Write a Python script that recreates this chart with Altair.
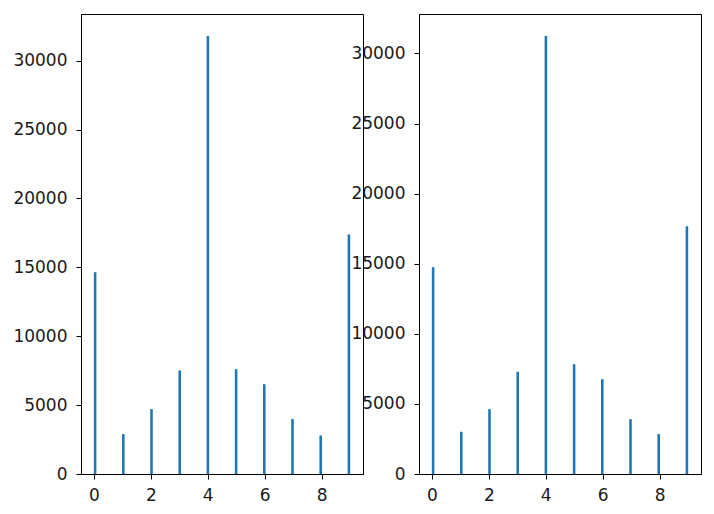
import math
import altair as alt
import pandas as pd

digits = [0, 1, 2, 3, 4, 5, 6, 7, 8, 9]
counts_left = [14650, 2900, 4710, 7520, 31800, 7610, 6520, 3990, 2800, 17390]
counts_right = [14750, 3010, 4630, 7290, 31250, 7830, 6760, 3915, 2845, 17670]

N_BINS = 100
LO, HI = 0, 9
STEP = (HI - LO) / N_BINS
BLUE = "#1f77b4"
FONT = "DejaVu Sans"


def make_df(counts):
    idx = [min(int(math.floor((d - LO) / STEP)), N_BINS - 1) for d in digits]
    return pd.DataFrame({
        "digit": digits,
        "start": [LO + i * STEP for i in idx],
        "end": [LO + (i + 1) * STEP for i in idx],
        "count": counts,
    })


def panel(counts):
    df = make_df(counts)
    xmargin = (HI - LO) * 0.05
    ymax = max(counts) * 1.05
    return alt.Chart(df).mark_bar(color=BLUE, stroke=None).encode(
        x=alt.X("start:Q",
                scale=alt.Scale(domain=[LO - xmargin, HI + xmargin], nice=False, zero=False),
                axis=alt.Axis(values=[0, 2, 4, 6, 8], format="d", title=None)),
        x2="end:Q",
        y=alt.Y("count:Q",
                scale=alt.Scale(domain=[0, ymax], nice=False),
                axis=alt.Axis(values=list(range(0, 30001, 5000)), format="d", title=None)),
        y2=alt.datum(0),
    ).properties(width=282, height=460)


chart = alt.hconcat(panel(counts_left), panel(counts_right), spacing=56, bounds="flush").properties(
    padding={"left": 4, "top": 5, "right": 0, "bottom": 0}
).configure_view(
    stroke="#000", strokeWidth=1
).configure_axis(
    grid=False,
    domainColor="#000",
    domainWidth=1,
    tickColor="#000",
    tickSize=5,
    tickWidth=1,
    labelFont=FONT,
    labelFontSize=17,
    labelColor="#1a1a1a",
    labelPadding=8,
).configure_axisY(labelPadding=9).configure_axisX(labelPadding=8)

chart.save("out.html", embed_options={"renderer": "svg", "actions": False})
